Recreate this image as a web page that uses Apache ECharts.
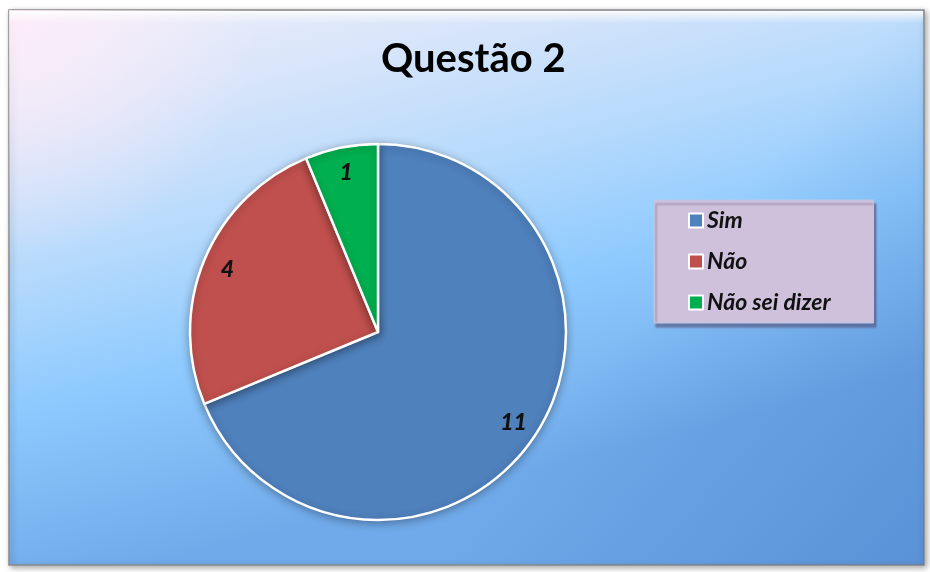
<!DOCTYPE html>
<html>
<head>
<meta charset="utf-8">
<script src="https://cdn.jsdelivr.net/npm/echarts@6/dist/echarts.min.js"></script>
<style>
  html, body { margin: 0; padding: 0; background: #ffffff; }
  #chart { width: 930px; height: 572px; }
</style>
</head>
<body>
<div id="chart"></div>
<script>
// data
var categories = ['Sim', 'Não', 'Não sei dizer'];
var values = [11, 4, 1];
var colors = ['#4f81bd', '#c0504d', '#00b050'];

var pieData = categories.map(function (c, i) {
  return { name: c, value: values[i], itemStyle: { color: colors[i] } };
});

var myChart = echarts.init(document.getElementById('chart'));
var option = {
  animation: false,
  graphic: [
    {
      type: 'rect',
      shape: { x: 9, y: 10, width: 915, height: 555 },
      style: {
        fill: {
          type: 'linear', x: 0, y: 0, x2: 0.15, y2: 1,
          colorStops: [
            { offset: 0, color: '#eef0fb' },
            { offset: 0.2, color: '#dbe6fa' },
            { offset: 0.45, color: '#b6dafc' },
            { offset: 0.68, color: '#8ecafe' },
            { offset: 1, color: '#70aaea' }
          ]
        },
        stroke: '#8a8a8a',
        lineWidth: 1.5,
        shadowBlur: 6,
        shadowColor: 'rgba(0,0,0,0.35)',
        shadowOffsetX: 2,
        shadowOffsetY: 2
      },
      z: -10
    },
    {
      // darker lower right corner
      type: 'rect',
      shape: { x: 9, y: 10, width: 915, height: 555 },
      style: {
        fill: {
          type: 'linear', x: 0.3, y: 0, x2: 1, y2: 1,
          colorStops: [
            { offset: 0, color: 'rgba(40,90,170,0)' },
            { offset: 0.55, color: 'rgba(40,90,170,0)' },
            { offset: 1, color: 'rgba(40,90,170,0.3)' }
          ]
        }
      },
      z: -9
    },
    {
      // pink tint top left
      type: 'rect',
      shape: { x: 9, y: 10, width: 915, height: 555 },
      style: {
        fill: {
          type: 'radial', x: 0, y: 0, r: 0.45,
          colorStops: [
            { offset: 0, color: 'rgba(255,236,248,0.9)' },
            { offset: 1, color: 'rgba(255,236,248,0)' }
          ]
        }
      },
      z: -8
    },
    {
      // bevel highlight along the top
      type: 'rect',
      shape: { x: 10, y: 11, width: 913, height: 12 },
      style: {
        fill: {
          type: 'linear', x: 0, y: 0, x2: 0, y2: 1,
          colorStops: [
            { offset: 0, color: 'rgba(255,255,255,0.95)' },
            { offset: 1, color: 'rgba(255,255,255,0)' }
          ]
        }
      },
      z: -7
    }
  ],
  title: {
    text: 'Questão 2',
    left: 376,
    top: 34,
    textStyle: {
      fontFamily: 'Lato',
      fontWeight: 'bold',
      fontSize: 40,
      color: '#000000'
    }
  },
  legend: {
    orient: 'vertical',
    left: 654,
    top: 200,
    data: categories,
    backgroundColor: '#cfc1dc',
    borderColor: '#b8c8e8',
    borderWidth: 1,
    shadowColor: 'rgba(80,70,110,0.55)',
    shadowBlur: 2,
    shadowOffsetX: 2,
    shadowOffsetY: 4,
    padding: [9, 43, 9, 34],
    itemWidth: 14,
    itemHeight: 14,
    itemGap: 18,
    icon: 'rect',
    textStyle: {
      fontFamily: 'Lato',
      fontWeight: 'bold',
      fontStyle: 'italic',
      fontSize: 23,
      color: '#111111',
      padding: [0, 0, 0, -1]
    }
  },
  series: [
    {
      type: 'pie',
      center: [378, 332],
      radius: 188,
      startAngle: 90,
      clockwise: true,
      silent: true,
      label: { show: false },
      labelLine: { show: false },
      itemStyle: {
        borderColor: '#ffffff',
        borderWidth: 2.5,
        shadowBlur: 8,
        shadowColor: 'rgba(0,0,0,0.3)',
        shadowOffsetY: 2
      },
      data: pieData
    },
    {
      // transparent ring used only to place the value labels at ~0.85 r
      type: 'pie',
      center: [378, 332],
      radius: [132, 188],
      startAngle: 90,
      clockwise: true,
      silent: true,
      itemStyle: { color: 'rgba(0,0,0,0)', borderWidth: 0 },
      label: {
        show: true,
        position: 'inside',
        formatter: '{c}',
        fontFamily: 'Lato',
        fontWeight: 900,
        fontStyle: 'italic',
        fontSize: 23,
        color: '#111111'
      },
      labelLine: { show: false },
      data: categories.map(function (c, i) { return { name: c, value: values[i] }; })
    }
  ]
};
option && myChart.setOption(option);
</script>
</body>
</html>
